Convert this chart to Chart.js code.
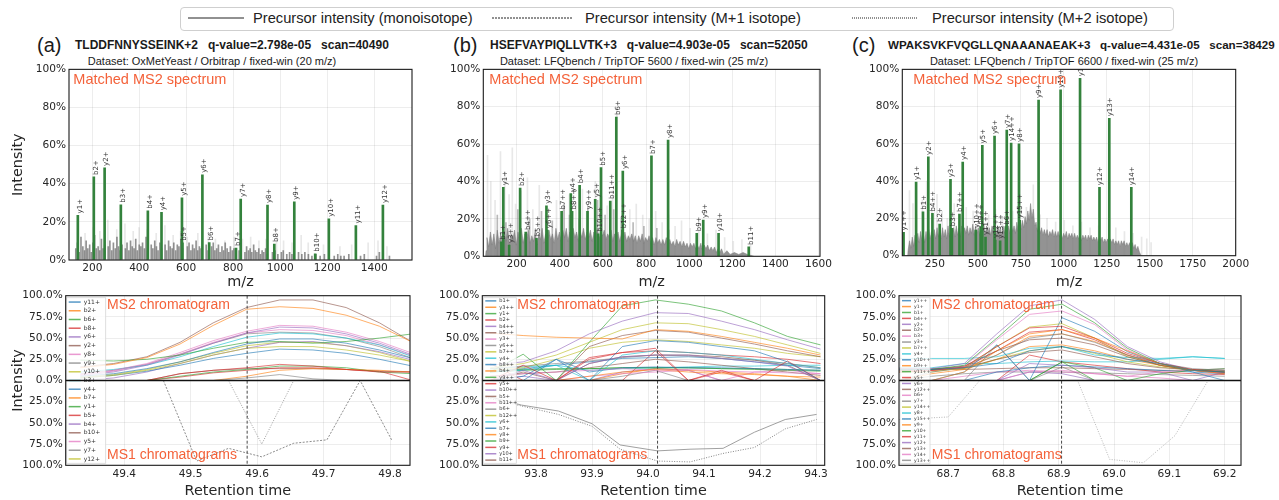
<!DOCTYPE html>
<html><head><meta charset="utf-8">
<script src="https://cdn.jsdelivr.net/npm/chart.js@4.4.1/dist/chart.umd.min.js"></script>
<style>
html,body{margin:0;padding:0;background:#fff;}
body{width:1279px;height:500px;position:relative;overflow:hidden;font-family:"Liberation Sans",Arial,sans-serif;color:#1a1a1a;}
canvas{position:absolute;}
.t{position:absolute;white-space:pre;line-height:1;transform:translateY(-50%);}
.c{transform:translate(-50%,-50%);}
.pl{font-size:20px;}
.ti{font-size:12px;font-weight:bold;}
.st{font-size:11px;}
.lg{position:absolute;border:1px solid #cfcfcf;border-radius:4px;background:#fff;}
.lt{font-size:14.7px;color:#222;}
svg{position:absolute;overflow:visible;}
</style></head><body>
<div class="lg" style="left:180px;top:7px;width:992px;height:22px;"></div>
<svg style="left:188px;top:18px;" width="56" height="1"><line x1="0" y1="0" x2="56" y2="0" stroke="#222" stroke-width="1"/></svg>
<div class="t lt" style="left:253px;top:18px;">Precursor intensity (monoisotope)</div>
<svg style="left:492px;top:18px;" width="80" height="1"><line x1="0" y1="0" x2="80" y2="0" stroke="#222" stroke-width="1" stroke-dasharray="2,1"/></svg>
<div class="t lt" style="left:585px;top:18px;">Precursor intensity (M+1 isotope)</div>
<svg style="left:852px;top:18px;" width="66" height="1"><line x1="0" y1="0" x2="66" y2="0" stroke="#222" stroke-width="1" stroke-dasharray="1,1"/></svg>
<div class="t lt" style="left:932px;top:18px;">Precursor intensity (M+2 isotope)</div>

<div class="t pl" style="left:37px;top:45px;">(a)</div>
<div class="t ti" style="left:75px;top:45px;">TLDDFNNYSSEINK+2   q-value=2.798e-05   scan=40490</div>
<div class="t st c" style="left:212px;top:61px;">Dataset: OxMetYeast / Orbitrap / fixed-win (20 m/z)</div>
<div class="t pl" style="left:453px;top:45px;">(b)</div>
<div class="t ti" style="left:490px;top:45px;">HSEFVAYPIQLLVTK+3   q-value=4.903e-05   scan=52050</div>
<div class="t st c" style="left:634px;top:61px;">Dataset: LFQbench / TripTOF 5600 / fixed-win (25 m/z)</div>
<div class="t pl" style="left:852px;top:45px;">(c)</div>
<div class="t ti" style="left:888px;top:45px;font-size:11.6px;">WPAKSVKFVQGLLQNAAANAEAK+3   q-value=4.431e-05   scan=38429</div>
<div class="t st c" style="left:1064px;top:61px;">Dataset: LFQbench / TripTOF 6600 / fixed-win (25 m/z)</div>

<script>
// ===================== DATA =====================
// ---- tick labels ----
const aMzTicks = [200,400,600,800,1000,1200,1400];
const bMzTicks = [200,400,600,800,1000,1200,1400,1600];
const cMzTicks = [250,500,750,1000,1250,1500,1750,2000];
const specYTicks = [0,20,40,60,80,100];
const aRtTicks = [49.4,49.5,49.6,49.7,49.8];
const bRtTicks = [93.8,93.9,94.0,94.1,94.2,94.3];
const cRtTicks = [68.7,68.8,68.9,69.0,69.1,69.2];
const chromYTicks = [-100,-75,-50,-25,0,25,50,75,100];

// ---- Panel (a) spectrum ----
const aIonLabels = ['y1+','b2+','y2+','b3+','b4+','y4+','y5+','b5+','y6+','b6+','b7+','y7+','y8+','b8+','y9+','b10+','y10+','y11+','y12+'];
const aIonMz = [147.11,215.14,261.16,330.17,445.19,503.28,590.32,592.26,677.35,706.30,820.35,840.41,954.45,983.41,1068.50,1157.47,1215.56,1330.59,1445.62];
const aIonInt = [23.4,43.6,48.3,29.0,25.8,25.0,32.6,9.0,44.7,9.2,6.3,32.0,28.8,8.4,30.5,3.3,21.6,18.1,28.8];
const aNoise = [[130,6],[137,9],[144,4],[152,12],[160,7],[167,5],[174,10],[181,6],[189,8],[196,4],[203,9],[210,13],[217,6],[225,7],[232,5],[239,11],[246,6],[253,8],[268,7],[275,10],[283,5],[290,9],[298,6],[305,12],[312,7],[319,5],[327,8],[341,6],[348,9],[356,5],[363,10],[370,7],[378,6],[385,11],[392,5],[400,8],[407,7],[414,9],[422,6],[429,12],[436,5],[451,8],[458,6],[466,10],[473,7],[480,5],[488,9],[495,6],[510,8],[517,5],[525,10],[532,7],[540,6],[547,9],[555,5],[562,8],[569,7],[577,11],[584,6],[605,7],[612,9],[620,5],[627,8],[634,6],[642,10],[649,5],[656,7],[663,6],[685,8],[693,5],[708,7],[715,9],[722,5],[730,6],[737,8],[744,4],[752,7],[759,5],[766,9],[774,6],[781,4],[788,7],[796,5],[803,6],[825,5],[850,4],[857,7],[865,5],[872,6],[879,4],[887,8],[894,5],[901,4],[909,6],[916,3],[923,5],[930,4],[938,6],[945,3],[967,4],[978,5],[990,3],[1005,4],[1013,5],[1028,3],[1040,4],[1050,3],[1078,4],[1092,3],[1105,4],[1120,3],[1135,2],[1152,3],[1170,2],[1188,3],[1230,2],[1245,3],[1258,2],[1272,2],[1292,3],[1342,2],[1358,3],[1410,2],[1422,4],[1465,2]];
const aFaint = [[165,14],[200,17],[228,15],[262,21],[300,16],[335,19],[370,15],[395,17],[430,16],[468,14],[505,18],[540,13],[572,15],[600,12],[645,14],[690,13],[720,11],[760,10],[800,12],[835,11],[870,12],[905,10],[935,11],[980,12],[1010,10],[1046,9],[1085,13],[1115,9],[1180,8],[1250,7],[1300,8],[1370,9],[1412,10],[1450,7]];

// ---- Panel (b) spectrum ----
const bIonLabels = ['b1+','y3++','y1+','b2+','b4++','b5++','y3+','y6++','b7++','y4+','b8++','b4+','y9++','y5+','b10++','b5+','b11++','b6+','b12++','y6+','b7+','y8+','b9+','y9+','y10+','b11+'];
const bIonMz = [138.07,174.12,147.11,225.10,251.11,300.64,347.23,351.23,417.69,460.31,466.22,501.21,537.83,573.40,586.79,600.28,643.33,671.31,699.87,701.46,834.38,911.59,1044.51,1074.66,1145.69,1285.66];
const bIonInt = [7.8,6,36.9,36.5,13,9.6,27,14,24,33.5,24,38,24,30.5,12,47.4,29.6,74.5,14,45.6,53.7,62.2,12.3,19.4,12.3,5];
const bNoise = [[55,0],[58,3],[62,10],[70,5],[78,13],[86,6],[94,12],[102,4],[110,14],[118,7],[126,12],[134,5],[142,13],[150,8],[158,15],[166,6],[174,12],[182,9],[190,14],[198,6],[206,13],[214,8],[222,15],[230,7],[238,12],[246,9],[254,14],[262,7],[270,11],[278,8],[286,14],[294,6],[302,12],[310,9],[318,15],[326,7],[334,12],[342,8],[350,14],[358,9],[366,12],[374,7],[382,15],[390,9],[398,13],[406,8],[414,14],[422,10],[430,15],[438,8],[446,13],[454,9],[462,15],[470,10],[478,13],[486,8],[494,14],[502,10],[510,15],[518,9],[526,13],[534,10],[542,14],[550,8],[558,13],[566,10],[574,15],[582,9],[590,13],[598,11],[606,14],[614,9],[622,12],[630,10],[638,14],[646,8],[654,12],[662,10],[670,13],[678,8],[686,12],[694,9],[702,13],[710,8],[718,11],[726,9],[734,12],[742,8],[750,11],[758,7],[766,11],[774,8],[782,12],[790,7],[798,10],[806,8],[814,11],[822,7],[830,10],[838,6],[846,10],[854,7],[862,9],[870,6],[878,9],[886,6],[894,10],[902,5],[910,9],[918,6],[926,8],[934,5],[942,9],[950,6],[958,8],[966,5],[974,8],[982,5],[990,7],[998,4],[1006,7],[1014,5],[1022,7],[1030,4],[1038,6],[1046,4],[1054,7],[1062,3],[1070,6],[1078,4],[1086,6],[1094,3],[1102,5],[1110,3],[1118,5],[1126,2],[1134,4],[1142,2],[1150,4],[1160,1],[1175,3],[1190,1],[1210,2],[1230,1],[1250,2],[1270,1],[1300,0]];
const bMid = [[110,22],[150,18],[205,25],[260,20],[315,24],[365,19],[420,28],[445,22],[490,20],[530,26],[575,30],[610,22],[650,25],[685,20],[740,18],[790,16],[850,15],[905,14]];
const bFaint = [[60,54],[75,40],[95,30],[120,56],[140,45],[160,33],[175,58],[190,28],[215,35],[245,42],[270,25],[300,38],[330,22],[380,30],[410,26],[440,33],[470,29],[500,36],[520,24],[560,40],[590,32],[615,27],[640,35],[660,78],[690,30],[720,25],[750,28],[780,22],[810,20],[840,24],[870,18],[900,22],[930,16],[960,19],[1000,15],[1040,17],[1080,12],[1120,14],[1160,10],[1200,8],[1240,9],[1280,6]];

// ---- Panel (c) spectrum ----
const cIonLabels = ['y1++','y1+','b1+','y2+','b4++','b2+','y3+','b3+','b7++','y4+','y10++','b9++','y11++','y5+','y6+','y12++','y13++','b6+','y7+','y14++','y8+','y15++','y9+','y10+','y11+','y12+','y13+','y14+'];
const cIonMz = [74.06,147.11,187.09,218.15,242.14,284.14,347.19,355.18,399.24,418.23,494.25,522.31,550.79,532.27,603.31,607.33,635.84,669.37,674.35,699.87,745.38,749.41,859.43,987.49,1100.57,1213.65,1270.68,1398.73];
const cIonInt = [12.5,39.5,23.6,53,22.7,17,41,14.7,22.4,50.3,13.8,15.5,10,59.2,64.2,8.4,8,15.6,67.4,60.5,60,19,83.5,89,95.2,36.7,73.7,36.7];
const cNoise = [[92,0],[95,3],[103,8],[111,4],[119,10],[127,5],[135,11],[143,6],[151,12],[159,7],[167,13],[175,8],[183,12],[191,7],[199,13],[207,8],[215,14],[223,9],[231,13],[239,8],[247,14],[255,9],[263,15],[271,10],[279,14],[287,9],[295,15],[303,10],[311,14],[319,9],[327,16],[335,10],[343,14],[351,11],[359,15],[367,10],[375,16],[383,11],[391,15],[399,10],[407,16],[415,11],[423,15],[431,12],[439,16],[447,11],[455,15],[463,12],[471,17],[479,11],[487,16],[495,12],[503,15],[511,11],[519,16],[527,12],[535,17],[543,11],[551,16],[559,12],[567,15],[575,11],[583,16],[591,12],[599,15],[607,11],[615,16],[623,12],[631,15],[639,11],[647,16],[655,12],[663,17],[671,12],[679,16],[687,12],[695,17],[703,13],[711,16],[719,12],[727,18],[735,13],[743,17],[751,14],[759,19],[767,15],[775,21],[783,17],[791,24],[799,19],[807,28],[815,20],[823,25],[831,16],[839,18],[847,13],[855,16],[863,12],[871,15],[879,11],[887,14],[895,11],[903,14],[911,10],[919,13],[927,11],[935,14],[943,10],[951,13],[959,10],[967,13],[975,10],[983,13],[991,9],[999,12],[1007,10],[1015,13],[1023,9],[1031,12],[1039,10],[1047,12],[1055,9],[1063,12],[1071,9],[1079,11],[1087,9],[1095,12],[1103,8],[1111,11],[1119,9],[1127,11],[1135,8],[1143,11],[1151,9],[1159,11],[1167,8],[1175,10],[1183,8],[1191,10],[1199,7],[1207,10],[1215,8],[1223,10],[1231,7],[1239,9],[1247,7],[1255,9],[1263,6],[1271,9],[1279,7],[1287,9],[1295,6],[1303,8],[1311,6],[1319,8],[1327,5],[1335,8],[1343,6],[1351,8],[1359,5],[1367,7],[1375,5],[1383,7],[1391,4],[1399,7],[1407,4],[1415,6],[1423,3],[1431,5],[1440,2],[1450,0]];
const cFaint = [[100,35],[120,28],[140,22],[175,30],[200,40],[230,26],[260,33],[290,24],[320,20],[360,28],[400,22],[430,26],[470,24],[520,30],[560,22],[600,25],[640,20],[700,24],[740,22],[780,26],[820,38],[860,22],[900,20],[950,18],[1000,19],[1050,16],[1100,18],[1150,15],[1200,16],[1260,14],[1300,15],[1350,13],[1400,12],[1450,10],[1480,9],[1505,7]];

// ---- Panel (a) chromatograms ----
const aScanRt = 49.585;
const aRt2 = [49.334,49.384,49.434,49.484,49.534,49.584,49.634,49.684,49.734,49.784,49.834];
const aChromLabels = ['y11+','b2+','b6+','b8+','y6+','y2+','y8+','y9+','y10+','b3+','y4+','b7+','y1+','b5+','b4+','b10+','y5+','y7+','y12+'];
const aMs2 = [
 [5,8,14,22,33,43,49,49,44,36,26],
 [15,19,27,43,65,84,87,85,77,64,45],
 [24,23,25,30,38,45,46,44,46,50,55],
 [0,0,0,8,12,15,19,17,13,10,10],
 [6,10,18,30,44,56,63,62,55,44,30],
 [16,20,28,45,68,86,95,95,86,68,45],
 [7,12,20,33,47,58,65,64,57,46,32],
 [0,0,0,0,0,3,7,2,0,0,0],
 [3,6,12,20,30,38,40,40,36,30,22],
 [10,13,18,28,40,51,56,55,50,42,28],
 [3,6,11,18,26,32,37,36,32,25,17],
 [0,0,0,0,0,5,12,14,13,12,10],
 [0,0,0,5,10,13,17,17,15,10,8],
 [0,0,0,4,9,12,15,15,13,11,0],
 [0,3,10,20,30,38,45,46,41,34,24],
 [0,0,0,8,12,14,14,14,13,11,10],
 [7,11,19,31,45,56,60,59,53,42,29],
 [8,12,19,31,44,55,57,56,50,40,26],
 [4,7,13,22,32,41,45,45,41,33,22]
];
const aRt1 = [49.459,49.509,49.557,49.607,49.655,49.705,49.755,49.803];
const aMs1Mono = [0,95,80,90,74,70,0,71];
const aMs1Iso1 = [null,null,0,75,0,null,null,null];

// ---- Panel (b) chromatograms ----
const bScanRt = 94.017;
const bRt2 = [93.718,93.777,93.836,93.895,93.954,94.013,94.072,94.131,94.19,94.249,94.308];
const bChromLabels = ['b1+','y3++','y1+','b2+','b4++','b5++','y3+','y6++','b7++','y4+','b8++','b4+','y9++','y5+','b10++','b5+','b11++','b6+','b12++','y6+','b7+','y8+','b9+','y9+','y10+','b11+'];
const bMs2 = [
 [0,0,25,0,40,47,45,40,35,22,0],
 [56,53,51,50,49,60,58,52,45,38,30],
 [10,31,0,45,88,95,90,82,68,52,42],
 [0,18,0,27,33,38,0,12,0,23,0],
 [0,12,0,20,28,30,30,26,22,17,0],
 [0,10,0,40,53,59,57,50,43,35,28],
 [5,8,10,12,14,12,13,11,10,9,8],
 [14,17,20,23,27,30,29,26,24,20,15],
 [15,20,30,45,60,68,67,60,52,42,32],
 [10,12,18,0,30,35,33,30,25,20,15],
 [0,5,25,10,15,16,15,15,14,13,12],
 [0,0,0,5,10,13,10,8,7,5,4],
 [10,12,13,14,15,15,15,14,13,12,11],
 [20,0,0,25,33,35,33,30,28,25,20],
 [18,22,35,55,70,80,79,70,60,48,37],
 [5,8,10,15,20,25,22,18,14,10,6],
 [0,0,0,5,8,10,12,0,10,12,8],
 [0,0,0,0,5,12,0,0,0,0,0],
 [12,15,25,38,45,48,46,42,38,32,28],
 [14,16,18,12,14,15,16,17,17,18,18],
 [10,14,18,22,26,27,28,26,22,18,14],
 [0,0,0,0,8,14,12,10,8,5,0],
 [12,13,14,14,15,15,15,14,14,13,12],
 [0,0,0,0,0,35,0,10,0,0,0],
 [0,5,0,0,10,14,12,0,0,0,0],
 [0,0,0,20,28,30,30,28,24,18,0]
];
const bRt1 = [93.71,93.774,93.84,93.9,93.95,94.017,94.075,94.134,94.19,94.245,94.301];
const bMs1Mono = [18,29,36,51,76,83,81,80,61,46,40];
const bMs1Iso1 = [20,30,40,54,81,95,96,86,79,57,46];

// ---- Panel (c) chromatograms ----
const cScanRt = 68.905;
const cRt2 = [68.611,68.67,68.729,68.788,68.847,68.906,68.965,69.024,69.083,69.142,69.2];
const cChromLabels = ['y1++','y1+','b1+','b4++','y2+','b2+','b3+','y3+','b7++','y4+','y10++','b9++','y11++','y5+','y6+','y12++','b6+','y7+','y14++','y8+','y15++','y9+','y10+','y11+','y12+','y13+','y14+','y13++'];
const cMs2 = [
 [13,13,15,20,35,40,33,25,20,12,10],
 [0,0,10,35,55,60,50,35,20,12,8],
 [13,13,18,50,84,90,68,38,20,12,10],
 [10,12,16,40,62,64,50,32,20,13,10],
 [14,14,20,55,88,95,72,40,22,12,9],
 [12,13,17,35,48,50,42,28,18,12,10],
 [12,12,17,48,78,82,66,36,20,12,9],
 [0,10,15,30,50,55,45,30,20,14,12],
 [10,10,15,40,63,67,50,28,18,12,10],
 [26,26,26,28,38,40,30,27,26,28,26],
 [0,0,10,42,0,74,58,34,20,10,0],
 [12,12,14,30,52,55,46,30,18,12,10],
 [0,0,0,0,0,22,0,0,8,12,14],
 [10,12,15,35,57,60,48,30,18,12,9],
 [0,0,0,0,20,18,15,10,10,0,10],
 [14,14,15,25,33,36,28,20,15,13,12],
 [0,0,0,0,10,12,8,5,10,12,14],
 [0,0,0,42,0,16,0,0,0,0,0],
 [10,12,14,25,35,40,32,22,16,12,10],
 [15,15,20,20,22,23,22,22,25,28,26],
 [0,0,0,10,15,18,16,14,12,10,8],
 [0,8,13,25,40,42,35,25,18,12,8],
 [0,0,0,0,0,22,15,0,0,0,0],
 [0,0,0,0,30,22,18,14,10,8,7],
 [0,0,0,0,10,8,0,0,0,0,0],
 [12,13,13,14,15,15,14,13,12,12,12],
 [0,0,5,10,12,10,8,5,3,0,0],
 [0,5,8,10,10,10,9,8,7,6,5]
];
const cRt1 = [68.611,68.70,68.757,68.815,68.874,68.934,68.992,69.053,69.11,69.17];
const cMs1Mono = [46,43,0,0,0,0,93,97,65,0];

// ===================== RENDERING =====================
Chart.defaults.font.family = "'DejaVu Sans', sans-serif";
Chart.defaults.font.size = 10.6;
Chart.defaults.color = '#262626';
Chart.defaults.animation = false;
Chart.defaults.plugins.legend.display = false;
Chart.defaults.plugins.tooltip.enabled = false;

const TAB10 = ['#1f77b4','#ff7f0e','#2ca02c','#d62728','#9467bd','#8c564b','#e377c2','#7f7f7f','#bcbd22','#17becf'];
const GRID = 'rgba(0,0,0,0.07)';
const NOTE = '#f4623a';
function rgba(hex, a){const n=parseInt(hex.slice(1),16);return `rgba(${n>>16},${(n>>8)&255},${n&255},${a})`;}
function pairs(arr){return arr.map(p=>({x:p[0],y:p[1]}));}
function pts(xs, ys, sign){const out=[];xs.forEach((x,i)=>{if(ys[i]!==null&&ys[i]!==undefined)out.push({x:x,y:sign*ys[i]});});return out;}
function fixTicks(vals){return s=>{s.ticks=vals.map(v=>({value:v}));};}
function mk(box){
  const c=document.createElement('canvas');
  c.width=box.w;c.height=box.h;
  c.style.left=box.x+'px';c.style.top=box.y+'px';c.style.width=box.w+'px';c.style.height=box.h+'px';
  document.body.appendChild(c);return c;
}
function frame(ctx,a){ctx.save();ctx.strokeStyle='#1a1a1a';ctx.lineWidth=1.1;ctx.strokeRect(a.left,a.top,a.right-a.left,a.bottom-a.top);ctx.restore();}

function spectrum(o){
  const c=mk(o.box);
  const ds=[];
  ds.push({type:'bar',data:pairs(o.faint),backgroundColor:'rgba(150,150,150,0.22)',barThickness:1,order:5});
  if(o.mid) ds.push({type:'bar',data:pairs(o.mid),backgroundColor:'rgba(128,128,128,0.55)',barThickness:1,order:4});
  if(o.area) ds.push({type:'line',data:pairs(o.noise),borderColor:'rgba(125,125,125,0.9)',backgroundColor:'rgba(128,128,128,0.85)',borderWidth:0.6,pointRadius:0,fill:'origin',tension:0,order:3});
  else ds.push({type:'bar',data:pairs(o.noise),backgroundColor:'rgba(110,110,110,0.75)',barThickness:1,order:3});
  ds.push({type:'bar',data:o.ionMz.map((m,i)=>({x:m,y:o.ionInt[i]})),backgroundColor:'#33823c',barThickness:2,order:1});
  new Chart(c,{
    type:'bar',
    data:{datasets:ds},
    options:{
      responsive:false,devicePixelRatio:1,
      layout:{padding:{top:o.plot.t-o.box.y,right:o.box.x+o.box.w-o.plot.r,left:0,bottom:0}},
      scales:{
        x:{type:'linear',offset:false,min:o.xmin,max:o.xmax,afterBuildTicks:fixTicks(o.xticks),
           grid:{color:GRID,drawTicks:false,offset:false},border:{display:false},
           ticks:{padding:2,maxRotation:0,autoSkip:false,callback:v=>String(v)},
           title:{display:true,text:'m/z',font:{size:14.4},color:'#262626',padding:{top:0,bottom:o.titlePad}},
           afterFit:s=>{s.height=o.box.y+o.box.h-o.plot.b;}},
        y:{min:0,max:100,afterBuildTicks:fixTicks(specYTicks),grid:{color:GRID,drawTicks:false},border:{display:false},
           ticks:{padding:3,callback:v=>v+'%'},
           title:{display:o.showY,text:'Intensity',font:{size:14.4},color:'#262626',padding:{top:9.4,bottom:0}},
           afterFit:s=>{s.width=o.plot.l-o.box.x;}}
      }
    },
    plugins:[{id:'deco',afterDatasetsDraw(chart){
      const {ctx,chartArea:a,scales:{x,y}}=chart;
      ctx.save();
      ctx.beginPath();ctx.rect(a.left,a.top,a.right-a.left,a.bottom-a.top);ctx.clip();
      ctx.fillStyle='#333';ctx.font="7px 'DejaVu Sans'";ctx.textAlign='left';ctx.textBaseline='middle';
      o.ionLabels.forEach((lab,i)=>{
        const px=x.getPixelForValue(o.ionMz[i]),py=y.getPixelForValue(o.ionInt[i]);
        ctx.save();ctx.translate(px,py-2);ctx.rotate(-Math.PI/2);ctx.fillText(lab,0,0);ctx.restore();
      });
      ctx.restore();
      frame(ctx,a);
      ctx.save();ctx.fillStyle=NOTE;ctx.font="14.5px 'Liberation Sans'";ctx.textBaseline='middle';ctx.textAlign='left';
      ctx.fillText('Matched MS2 spectrum',a.left+o.noteDx,a.top+10.5);ctx.restore();
    }}]
  });
}

function chrom(o){
  const c=mk(o.box);
  const ds=[];
  o.ms2.forEach((vals,i)=>ds.push({type:'line',data:pts(o.rt2,vals,1),borderColor:rgba(TAB10[i%10],0.62),borderWidth:1,pointRadius:0,fill:false,tension:0}));
  o.ms1.forEach(m=>ds.push({type:'line',data:pts(m.rt,m.vals,-1),borderColor:m.color,borderWidth:1,borderDash:m.dash,pointRadius:0,fill:false,tension:0}));
  new Chart(c,{
    type:'line',
    data:{datasets:ds},
    options:{
      responsive:false,devicePixelRatio:1,
      layout:{padding:{top:o.plot.t-o.box.y,right:o.box.x+o.box.w-o.plot.r,left:0,bottom:0}},
      scales:{
        x:{type:'linear',min:o.xmin,max:o.xmax,afterBuildTicks:fixTicks(o.xticks),grid:{color:GRID,drawTicks:false},border:{display:false},
           ticks:{padding:3,maxRotation:0,autoSkip:false,callback:v=>v.toFixed(1)},
           title:{display:true,text:'Retention time',font:{size:14.4},color:'#262626',padding:{top:0,bottom:0}},
           afterFit:s=>{s.height=o.box.y+o.box.h-o.plot.b;}},
        y:{min:-100,max:100,afterBuildTicks:fixTicks(chromYTicks),grid:{color:(ctx)=>ctx.tick&&ctx.tick.value===0?'rgba(0,0,0,0)':GRID,drawTicks:false},border:{display:false},
           ticks:{padding:3,callback:v=>Math.abs(v).toFixed(1)+'%'},
           title:{display:o.showY,text:'Intensity',font:{size:14.4},color:'#262626',padding:{top:9.4,bottom:0}},
           afterFit:s=>{s.width=o.plot.l-o.box.x;}}
      }
    },
    plugins:[{id:'deco',afterDatasetsDraw(chart){
      const {ctx,chartArea:a,scales:{x,y}}=chart;
      ctx.save();
      const sx=x.getPixelForValue(o.scan);
      ctx.strokeStyle='#333';ctx.lineWidth=0.9;ctx.setLineDash([3,2]);
      ctx.beginPath();ctx.moveTo(sx,a.top);ctx.lineTo(sx,a.bottom);ctx.stroke();ctx.setLineDash([]);
      const n=o.labels.length,lw=o.legW,top=a.top+2,h=a.bottom-a.top-4,step=h/n;
      ctx.fillStyle='rgba(255,255,255,0.82)';ctx.strokeStyle='rgba(210,210,210,0.9)';ctx.lineWidth=0.8;
      ctx.fillRect(a.left+1,top,lw,h);ctx.strokeRect(a.left+1,top,lw,h);
      ctx.font=o.legFont+"px 'DejaVu Sans'";ctx.textBaseline='middle';ctx.textAlign='left';
      o.labels.forEach((lab,i)=>{
        const yy=top+step*(i+0.5);
        ctx.strokeStyle=rgba(TAB10[i%10],0.75);ctx.lineWidth=1.5;
        ctx.beginPath();ctx.moveTo(a.left+3,yy);ctx.lineTo(a.left+3+o.sampW,yy);ctx.stroke();
        ctx.fillStyle='#333';ctx.fillText(lab,a.left+6+o.sampW,yy);
      });
      const y0=y.getPixelForValue(0);
      ctx.strokeStyle='#111';ctx.lineWidth=1.3;ctx.beginPath();ctx.moveTo(a.left,y0);ctx.lineTo(a.right,y0);ctx.stroke();
      ctx.restore();
      frame(ctx,a);
      ctx.save();ctx.fillStyle=NOTE;ctx.font="14px 'Liberation Sans'";ctx.textBaseline='middle';ctx.textAlign='left';
      ctx.fillText('MS2 chromatogram',a.left+o.noteDx,a.top+9.5);
      ctx.fillText('MS1 chromatograms',a.left+o.noteDx,a.bottom-10.5);
      ctx.restore();
    }}]
  });
}

spectrum({box:{x:0,y:60,w:430,h:232},plot:{l:69,t:69,r:412,b:260},xmin:101,xmax:1561,xticks:aMzTicks,
  ionLabels:aIonLabels,ionMz:aIonMz,ionInt:aIonInt,noise:aNoise,faint:aFaint,area:false,showY:true,noteDx:4.3,titlePad:1.4});
spectrum({box:{x:430,y:60,w:420,h:232},plot:{l:483.3,t:69.3,r:820,b:256.3},xmin:45,xmax:1607,xticks:bMzTicks,
  ionLabels:bIonLabels,ionMz:bIonMz,ionInt:bIonInt,noise:bNoise,mid:bMid,faint:bFaint,area:true,showY:false,noteDx:6,titlePad:1.4});
spectrum({box:{x:850,y:60,w:429,h:232},plot:{l:902.3,t:69.3,r:1235.7,b:255.7},xmin:61,xmax:2000,xticks:cMzTicks,
  ionLabels:cIonLabels,ionMz:cIonMz,ionInt:cIonInt,noise:cNoise,faint:cFaint,area:true,showY:false,noteDx:11,titlePad:1.4});

chrom({box:{x:0,y:285,w:430,h:215},plot:{l:65.7,t:295.7,r:410,b:465.3},xmin:49.312,xmax:49.83,xticks:aRtTicks,scan:aScanRt,
  rt2:aRt2,ms2:aMs2,labels:aChromLabels,
  ms1:[{rt:aRt1,vals:aMs1Mono,color:'rgba(120,120,120,0.85)',dash:[2,1.5]},{rt:aRt1,vals:aMs1Iso1,color:'rgba(140,140,140,0.85)',dash:[1,1.5]}],
  showY:true,legW:39,sampW:12,legFont:6,noteDx:41.3});
chrom({box:{x:430,y:285,w:420,h:215},plot:{l:482.3,t:295.7,r:824.7,b:465.3},xmin:93.704,xmax:94.3155,xticks:bRtTicks,scan:bScanRt,
  rt2:bRt2,ms2:bMs2,labels:bChromLabels,
  ms1:[{rt:bRt1,vals:bMs1Mono,color:'rgba(150,150,150,0.9)',dash:[]},{rt:bRt1,vals:bMs1Iso1,color:'rgba(120,120,120,0.9)',dash:[1,1.5]}],
  showY:false,legW:33,sampW:11,legFont:5,noteDx:35});
chrom({box:{x:850,y:285,w:429,h:215},plot:{l:899,t:295.7,r:1241,b:465.3},xmin:68.611,xmax:69.2295,xticks:cRtTicks,scan:cScanRt,
  rt2:cRt2,ms2:cMs2,labels:cChromLabels,
  ms1:[{rt:cRt1,vals:cMs1Mono,color:'rgba(170,170,170,0.85)',dash:[1,1.5]}],
  showY:false,legW:30,sampW:9,legFont:4.6,noteDx:32.7});
</script>
</body></html>
